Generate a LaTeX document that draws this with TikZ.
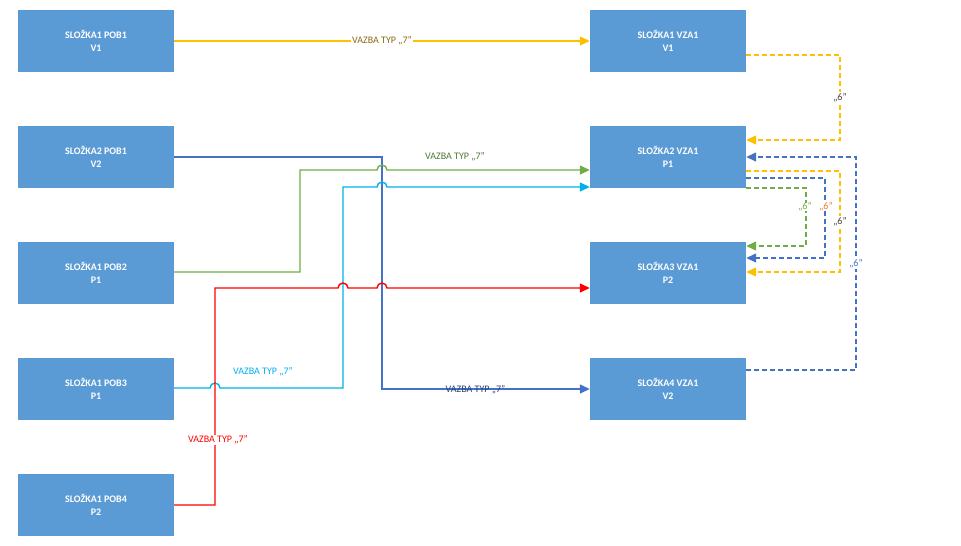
\documentclass[tikz,border=0pt]{standalone}
\usepackage{fontspec}
\setmainfont{Carlito}
\usetikzlibrary{positioning,arrows.meta}
\definecolor{boxblue}{HTML}{5B9BD5}
\definecolor{vyellow}{HTML}{FFC000}
\definecolor{vdblue}{HTML}{4472C4}
\definecolor{vgreen}{HTML}{70AD47}
\definecolor{vlblue}{HTML}{00B0F0}
\definecolor{vred}{HTML}{FF0000}
\definecolor{vorange}{HTML}{ED7D31}
\definecolor{vbrown}{HTML}{8C6A14}
\definecolor{vgray}{HTML}{404040}
\begin{document}
\begin{tikzpicture}[x=1pt,y=-1pt]
% Define styles for nodes and edges
\tikzstyle{slozka} = [rectangle, fill=boxblue, text=white, font=\fontsize{10}{13}\selectfont\bfseries, align=center, minimum width=156pt, minimum height=62pt, inner sep=0pt]
\tikzstyle{vazba} = [line width=1.4pt, -{Triangle[length=10pt,width=9pt]}]
\tikzstyle{zpet} = [vazba, dashed, dash pattern=on 5pt off 3pt]
\tikzstyle{popis} = [font=\fontsize{10}{12}\selectfont, fill=white, inner sep=1pt]
\useasboundingbox (0,0) rectangle (961,546);

% Nodes
\node[slozka] (pob1) at (96,41) {SLOŽKA1 POB1\\V1};
\node[slozka] (pob2v2) at (96,157) {SLOŽKA2 POB1\\V2};
\node[slozka] (pob2) at (96,273) {SLOŽKA1 POB2\\P1};
\node[slozka] (pob3) at (96,389) {SLOŽKA1 POB3\\P1};
\node[slozka] (pob4) at (96,505) {SLOŽKA1 POB4\\P2};
\node[slozka] (vza1) at (668,41) {SLOŽKA1 VZA1\\V1};
\node[slozka] (vza2) at (668,157) {SLOŽKA2 VZA1\\P1};
\node[slozka] (vza3) at (668,273) {SLOŽKA3 VZA1\\P2};
\node[slozka] (vza4) at (668,389) {SLOŽKA4 VZA1\\V2};

% Edges
\draw[vazba, vyellow] (pob1) -- node[popis, text=vbrown] {VAZBA TYP „7"} (vza1);
\draw[vazba, vdblue] (pob2v2.east) -- (382,157) -- (382,389) -- node[popis, pos=0.45, fill=none, above=-7pt, text=vdblue!60!black] {VAZBA TYP „7"} (vza4.west);
\draw[vazba, vgreen] (pob2.east |- 0,272) -- (300,272) -- (300,170) -- (377,170) arc (180:360:5) -- (vza2.west |- 0,170);
\node[text=vgreen!70!black, font=\fontsize{10}{12}\selectfont] (popisg) at (455,157) {VAZBA TYP „7"};
\draw[vazba, vlblue] (pob3.east |- 0,388) -- (210,388) arc (180:360:5) -- (343,388) -- (343,187) -- (377,187) arc (180:360:5) -- (vza2.west |- 0,187);
\node[text=vlblue, font=\fontsize{10}{12}\selectfont] (popisl) at (263,372) {VAZBA TYP „7"};
\draw[vazba, vred] (pob4.east) -- (215,505) -- (215,288) -- (338,288) arc (180:360:5) -- (377,288) arc (180:360:5) -- (vza3.west |- 0,288);
\node[popis, text=vred] (popisr) at (218,440) {VAZBA TYP „7"};

% Dashed back links
\draw[zpet, vyellow] (vza1.east |- 0,55) -- (840,55) -- node[popis, text=vgray] {„6"} (840,140) -- (vza2.east |- 0,140);
\draw[zpet, vdblue] (vza4.east |- 0,370) -- (856,370) -- node[popis, pos=0.5, text=vdblue] {„6"} (856,157) -- (vza2.east |- 0,157);
\draw[zpet, vyellow] (vza2.east |- 0,171) -- (840,171) -- node[popis, pos=0.5, text=vgray] {„6"} (840,272) -- (vza3.east |- 0,272);
\draw[zpet, vdblue] (vza2.east |- 0,178) -- (825,178) -- (825,258) -- (vza3.east |- 0,258);
\draw[zpet, vgreen] (vza2.east |- 0,188) -- (806,188) -- (806,246) -- (vza3.east |- 0,246);
\node[popis, text=vgreen, inner sep=0pt] (sest1) at (805,207) {„6"};
\node[popis, text=vorange, inner sep=0pt] (sest2) at (826,207) {„6"};
\end{tikzpicture}
\end{document}
